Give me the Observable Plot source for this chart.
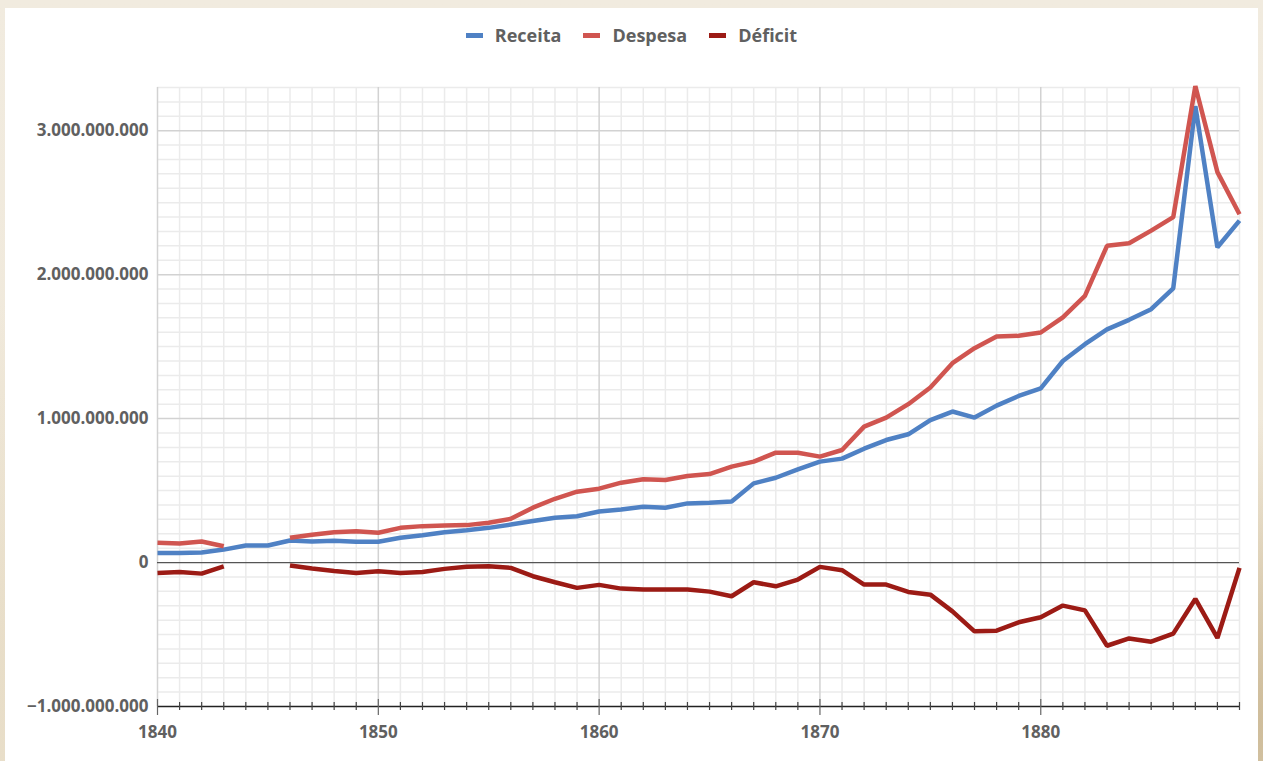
<!DOCTYPE html>
<html>
<head>
<meta charset="utf-8">
<script src="https://cdn.jsdelivr.net/npm/d3@7"></script>
<script src="https://cdn.jsdelivr.net/npm/@observablehq/plot@0.6"></script>
<style>
  html, body { margin: 0; padding: 0; width: 1263px; height: 761px; overflow: hidden; }
  body {
    background:
      radial-gradient(ellipse at 10% 90%, #e6dbc4 0%, rgba(230,219,196,0) 40%),
      radial-gradient(ellipse at 95% 95%, #cbb894 0%, rgba(203,184,148,0) 30%),
      linear-gradient(180deg, #f1ebdf 0%, #efe7d7 100%);
  }
  #card { position: absolute; left: 5px; top: 8px; width: 1253px; height: 753px; background: #fff; }
  #legend { height: 50px; display: flex; justify-content: center; align-items: center;
            font: 700 18px "Open Sans", sans-serif; color: #606060; padding-top: 4px; box-sizing: border-box; }
  .item { display: flex; align-items: center; margin: 0 11px; }
  .sw { width: 17px; height: 5px; margin-right: 12px; }
  svg { display: block; overflow: visible; }
</style>
</head>
<body>
<div id="card">
  <div id="legend"></div>
  <div id="chart"></div>
</div>
<script>
// Data (values in millions)
const years = [1840,1841,1842,1843,1844,1845,1846,1847,1848,1849,
               1850,1851,1852,1853,1854,1855,1856,1857,1858,1859,
               1860,1861,1862,1863,1864,1865,1866,1867,1868,1869,
               1870,1871,1872,1873,1874,1875,1876,1877,1878,1879,
               1880,1881,1882,1883,1884,1885,1886,1887,1888,1889];
const receita = [67,67,70,90,118,118,153,146,151,144,
                 144,172,190,211,225,241,264,288,311,322,
                 355,369,388,381,411,415,424,550,589,647,
                 701,722,791,851,891,990,1049,1007,1090,1157,
                 1210,1400,1517,1620,1686,1760,1905,3170,2190,2375];
const despesa = [137,132,146,113,null,null,172,193,211,218,
                 207,241,253,257,260,276,304,381,443,492,
                 513,555,578,573,601,615,666,701,763,763,
                 736,782,944,1007,1100,1216,1385,1489,1570,1575,
                 1598,1703,1853,2200,2218,2306,2400,3310,2712,2420];
const deficit = [-72,-65,-77,-26,null,null,-21,-42,-58,-72,
                 -60,-72,-65,-44,-30,-26,-37,-95,-137,-176,
                 -155,-181,-188,-188,-188,-202,-234,-137,-165,-118,
                 -30,-53,-153,-153,-204,-223,-339,-478,-473,-415,
                 -380,-299,-332,-578,-527,-550,-494,-253,-524,-37];
const seriesNames = ["Receita", "Despesa", "Déficit"];
const seriesColors = ["#4f81c4", "#d05550", "#9c1b15"];
const yTicks = [-1000, 0, 1000, 2000, 3000];
const xTicks = [1840, 1850, 1860, 1870, 1880];
const yDomain = [-1000, 3300];
const xDomain = [1840, 1889];
const yMinor = [-900,-800,-700,-600,-500,-400,-300,-200,-100,
                100,200,300,400,500,600,700,800,900,
                1100,1200,1300,1400,1500,1600,1700,1800,1900,
                2100,2200,2300,2400,2500,2600,2700,2800,2900,
                3100,3200,3300];

const seriesValues = [receita, despesa, deficit];
const rows = [];
seriesNames.forEach((name, s) => {
  years.forEach((yr, i) => rows.push({series: name, year: yr, value: seriesValues[s][i]}));
});

// Legend
const legend = document.getElementById("legend");
seriesNames.forEach((n, i) => {
  const it = document.createElement("div"); it.className = "item";
  const sw = document.createElement("div"); sw.className = "sw"; sw.style.background = seriesColors[i];
  const t = document.createElement("span"); t.textContent = n;
  it.appendChild(sw); it.appendChild(t); legend.appendChild(it);
});

const loc = d3.formatLocale({decimal: ",", thousands: ".", grouping: [3], currency: ["", ""]});
const fmt = loc.format(",d");
const decades = years.filter(y => xTicks.includes(y));
const nonDecades = years.filter(y => !xTicks.includes(y));

const chart = Plot.plot({
  width: 1253,
  height: 703,
  marginLeft: 152,
  marginRight: 19,
  marginTop: 29,
  marginBottom: 55,
  x: {domain: xDomain, label: null},
  y: {domain: yDomain, label: null},
  style: {fontFamily: "'Open Sans', sans-serif", color: "#606060", background: "transparent", overflow: "visible"},
  marks: [
    Plot.ruleY(yMinor, {stroke: "#ebebeb", strokeWidth: 1.5}),
    Plot.ruleX(nonDecades, {stroke: "#ebebeb", strokeWidth: 1.5}),
    Plot.ruleY(yTicks.filter(d => d !== 0 && d !== yDomain[0]), {stroke: "#d2d2d2", strokeWidth: 1.5}),
    Plot.ruleX(decades, {stroke: "#d2d2d2", strokeWidth: 1.5}),
    Plot.ruleY([0], {stroke: "#555", strokeWidth: 1.2}),
    Plot.ruleY([yDomain[0]], {stroke: "#222", strokeWidth: 1.5}),
    Plot.ruleX(nonDecades, {x: d => d, y1: yDomain[0], y2: yDomain[0], insetTop: -4, insetBottom: -4, stroke: "#444", strokeWidth: 1.2}),
    Plot.ruleX(decades, {x: d => d, y1: yDomain[0], y2: yDomain[0], insetTop: -7, insetBottom: -9, stroke: "#666", strokeWidth: 1.2}),
    Plot.line(rows, {x: "year", y: "value", z: "series",
      stroke: d => seriesColors[seriesNames.indexOf(d.series)],
      strokeWidth: 4.5, strokeLinejoin: "miter", strokeLinecap: "butt"}),
    Plot.axisY({ticks: yTicks, tickSize: 0, tickPadding: 9, tickFormat: d => fmt(d * 1e6), label: null,
      fontSize: 17, fontWeight: 700, fill: "#606060"}),
    Plot.axisX({ticks: xTicks, tickSize: 0, tickPadding: 19, tickFormat: d => String(d), label: null,
      fontSize: 17, fontWeight: 700, fill: "#606060"})
  ]
});
document.getElementById("chart").appendChild(chart);
</script>
</body>
</html>
